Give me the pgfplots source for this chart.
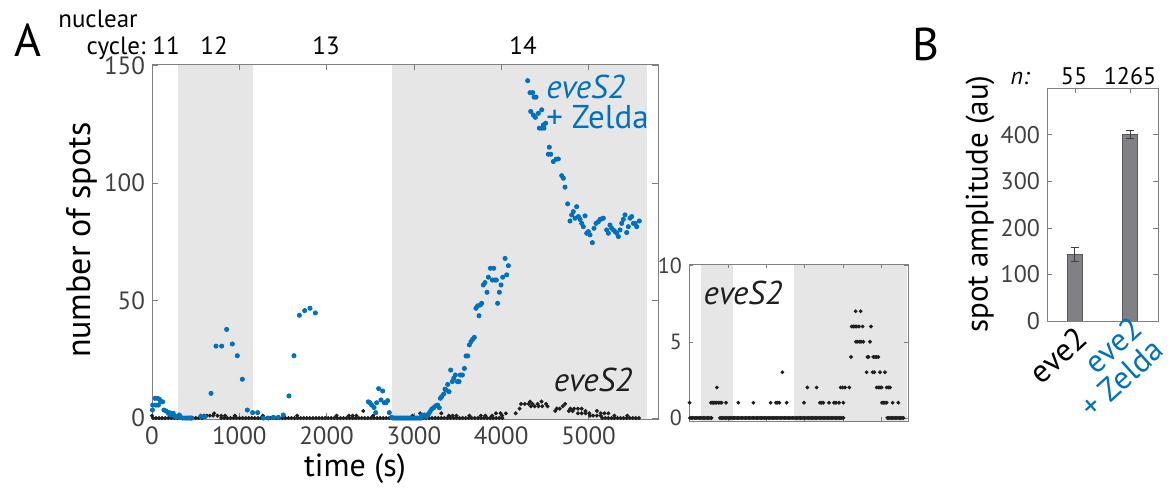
\documentclass[border=0pt]{standalone}
\usepackage{pgfplots}
\usepackage{pgfplotstable}
\pgfplotsset{compat=1.18}
\usepackage{fontspec}
\setmainfont{PT Sans}
\definecolor{mblue}{HTML}{0072BD}
\definecolor{shade}{HTML}{E6E6E6}
\definecolor{ticklab}{HTML}{404040}
\definecolor{axgray}{HTML}{808080}
\definecolor{barfill}{HTML}{808085}

% eveS2 + Zelda (blue)
\pgfplotstableread{
x y
5 3.4
8 5.5
34 8.4
46 5.5
61 8.4
73 5.5
84 8.0
99 6.9
122 6.9
137 3.4
160 3.0
187 2.0
199 2.3
214 1.3
225 2.0
244 2.0
263 0.6
283 0.6
313 1.3
328 0.3
351 0
378 0
400 0
420 0
440 0
454 0
561 0.6
607 0.6
676 10.5
733 30.6
798 30.6
855 37.7
920 31.5
977 26.5
1035 16.5
1092 3.4
1153 2.3
1210 2.3
1275 0
1332 0
1390 0.3
1447 0.3
1504 1.3
1569 9.4
1626 26.5
1688 43.7
1749 45.7
1810 46.7
1871 44.7
2478 6.9
2497 6.5
2516 5.5
2543 4.5
2562 2.3
2573 6.5
2596 12.5
2623 7.7
2642 11.5
2661 6.5
2680 6.5
2699 7.4
2718 2.3
2745 0.3
2764 0
2784 0
2804 0
2824 0
2844 0
2864 0
2884 0
2904 0
2924 0
2944 0
2964 0
2984 0
3004 0
3024 0
3044 0
3064 0
3084 0
3089 1.3
3119 1.3
3146 0.6
3165 1.6
3184 2.7
3204 3.8
3226 4.4
3249 5.2
3272 5.5
3291 4.4
3303 8.4
3318 9.1
3341 10.2
3356 12.3
3368 11.9
3387 14.3
3402 11.2
3421 20.4
3440 15.5
3456 16.9
3475 18.3
3498 15.5
3517 15.5
3532 18.3
3555 18.3
3578 21.1
3597 26.4
3616 26.4
3635 31.1
3654 32.5
3673 33.5
3692 34.3
3711 46.7
3730 47.7
3746 43.5
3761 48.1
3776 48.8
3795 56.6
3814 57.6
3837 53.5
3853 59.9
3876 63.7
3899 58.7
3914 63.7
3929 58.7
3944 58.7
3959 48.8
3979 53.5
3998 56.6
4017 59.9
4044 67.9
4063 60.9
4082 64.8
4303 143.5
4330 138.4
4361 138.4
4376 136.5
4399 136.5
4338 130.4
4368 128.9
4391 127.9
4425 129.6
4464 131.1
4437 123.3
4464 123.3
4483 124.7
4509 125.4
4490 123.3
4551 115.2
4540 112.2
4567 112.2
4597 109.1
4628 110.1
4654 110.2
4693 103.1
4712 102.0
4731 98.2
4761 91.1
4788 83.8
4807 86.4
4826 87.8
4845 85.0
4864 89.9
4884 85.7
4903 84.5
4922 82.8
4941 81.4
4960 86.0
4979 78.6
4998 79.3
5017 77.9
5044 74.6
5063 80.7
5086 82.8
5113 83.5
5132 84.5
5151 84.7
5170 85.0
5208 80.0
5227 78.6
5246 82.1
5265 80.7
5285 80.0
5304 79.3
5323 78.6
5342 77.2
5361 80.0
5380 82.8
5399 84.5
5418 86.4
5437 78.9
5456 81.4
5475 85.0
5495 85.7
5514 82.8
5533 82.8
5552 81.4
5582 83.8
}\zeldatable

% eveS2 (black)
\pgfplotstableread{
x y
0 1
11 0
46 0
81 0
116 0
151 0
186 0
221 0
256 0
291 0
326 0
361 0
396 0
431 0
466 0
501 0
536 0
571 0
558 1
593 1
628 1
663 1
700 1
712 2
750 1
793 1
837 1
950 1
793 0
828 0
863 0
898 0
933 0
968 0
1003 0
1038 0
1073 0
1108 0
1143 0
1178 0
1213 0
1248 0
1283 0
1318 0
1353 0
1388 0
1423 0
1458 0
1493 0
1528 0
1563 0
1598 0
1633 0
1668 0
1703 0
1738 0
1773 0
1808 0
1843 0
1878 0
1913 0
1948 0
1983 0
2018 0
2053 0
2088 0
2123 0
2158 0
2193 0
2228 0
2263 0
2298 0
2333 0
2368 0
2403 0
2438 0
2473 0
2508 0
2543 0
2578 0
2613 0
2648 0
2683 0
2718 0
2753 0
2788 0
2823 0
2858 0
2893 0
2928 0
2963 0
2998 0
3033 0
3068 0
3103 0
3138 0
3173 0
3208 0
3243 0
3278 0
3313 0
3348 0
3383 0
3418 0
3453 0
3488 0
3523 0
3558 0
3593 0
3628 0
3663 0
3698 0
3733 0
3768 0
3803 0
3838 0
3873 0
3908 0
3943 0
3978 0
4013 0
1271 1
1663 1
2114 1
2254 1
2297 1
2340 1
2419 3
2532 1
2984 1
3071 2
3314 2
3401 1
3444 1
3487 1
3636 1
3766 1
3818 1
3897 1
3940 2
3992 2
4010 1
4053 2
4166 2
4210 4
4227 6
4270 6
4314 6
4331 7
4340 5
4357 6
4383 5
4418 6
4427 5
4462 7
4470 5
4514 6
4531 5
4618 3
4636 4
4670 4
4705 5
4731 6
4775 3
4792 4
4818 3
4836 4
4879 4
4879 2
4922 4
4922 2
4966 3
4966 2
5009 2
5018 1
5053 1
5096 3
5096 1
5140 2
5140 1
5183 2
5227 2
5296 1
5444 1
5157 0
5192 0
5227 0
5262 0
5297 0
5332 0
5367 0
5402 0
5437 0
5472 0
5507 0
5542 0
5577 0
}\evetable

\begin{document}
\begin{tikzpicture}
\path[use as bounding box] (0,0) rectangle (585pt,-246.5pt);

% ---------- Panel A main ----------
\begin{axis}[
  anchor=south west, at={(76pt,-209.6pt)},
  width=253pt, height=177.5pt, scale only axis,
  xmin=0, xmax=5796, ymin=-0.5, ymax=150.5,
  xtick={0,1000,...,5000}, ytick={0,50,100,150},
  tick align=inside, major tick length=3pt,
  axis line style={axgray}, tick style={axgray},
  /pgf/number format/assume math mode=true,
  /pgf/number format/1000 sep={},
  scaled x ticks=false,
  ticklabel style={font=\fontsize{12.5}{14}\selectfont, text=ticklab},
  xlabel={time (s)}, ylabel={number of spots},
  xlabel style={font=\fontsize{16}{18}\selectfont, at={(rel axis cs:0.401,-0.138)}, anchor=center},
  ylabel style={font=\fontsize{17}{20}\selectfont, at={(rel axis cs:-0.138,0.504)}, anchor=center},
  axis on top,
]
\addplot[draw=none, fill=shade, forget plot] coordinates {(298,-0.5) (298,150.5) (1157,150.5) (1157,-0.5)} -- cycle;
\addplot[draw=none, fill=shade, forget plot] coordinates {(2749,-0.5) (2749,150.5) (5670,150.5) (5670,-0.5)} -- cycle;
\addplot[only marks, mark=*, mark size=0.8pt, color=black!88] table[x=x,y=y] {\evetable};
\addplot[only marks, mark=*, mark size=1.05pt, color=mblue] table[x=x,y=y] {\zeldatable};
\node[font=\fontsize{16.5}{18}\selectfont\itshape, text=black!88] at (axis cs:5052,16.2) {eveS2};
\node[font=\fontsize{16.5}{15}\selectfont, text=mblue, align=left, anchor=west, inner sep=0pt] at (axis cs:4513,134.5) {\textit{eveS2}\\+ Zelda};
\end{axis}

% ---------- Panel A inset ----------
\begin{axis}[
  anchor=south west, at={(344.5pt,-210.5pt)},
  width=109.5pt, height=78.5pt, scale only axis,
  xmin=-15, xmax=5697, ymin=-0.2, ymax=10.1,
  xtick={1000,2000,...,5000}, xticklabels={},
  ytick={0,5,10},
  tick align=inside, major tick length=2pt,
  axis line style={axgray}, tick style={axgray},
  /pgf/number format/assume math mode=true,
  ticklabel style={font=\fontsize{11}{12}\selectfont, text=ticklab},
  axis on top,
]
\addplot[draw=none, fill=shade, forget plot] coordinates {(298,-0.2) (298,10.1) (1133,10.1) (1133,-0.2)} -- cycle;
\addplot[draw=none, fill=shade, forget plot] coordinates {(2723,-0.2) (2723,10.1) (5670,10.1) (5670,-0.2)} -- cycle;
\addplot[only marks, mark=*, mark size=0.75pt, color=black!88] table[x=x,y=y] {\evetable};
\node[font=\fontsize{16.5}{18}\selectfont\itshape, text=black!88] at (axis cs:1393,8.2) {eveS2};
\end{axis}

% ---------- Panel B ----------
\begin{axis}[
  anchor=south west, at={(523.5pt,-160.5pt)},
  width=55.5pt, height=116.5pt, scale only axis,
  xmin=0.5, xmax=2.5, ymin=0, ymax=500,
  xtick={1,2}, xticklabels={},
  ytick={0,100,...,400},
  tick align=inside, major tick length=2.5pt,
  axis line style={axgray}, tick style={axgray},
  /pgf/number format/assume math mode=true,
  ticklabel style={font=\fontsize{12}{14}\selectfont, text=ticklab},
  ylabel={spot amplitude (au)},
  ylabel style={font=\fontsize{15.5}{18}\selectfont, at={(rel axis cs:-0.604,0.502)}, anchor=center},
  axis on top,
]
\addplot[ybar, bar width=7.5pt, fill=barfill, draw=black!65,
  error bars/.cd, y dir=both, y explicit,
  error bar style={black!75, line width=0.5pt},
  error mark options={rotate=90, mark size=2pt, black!75}]
  coordinates {(1,143) +- (0,15) (2,401) +- (0,9)};
\end{axis}

% ---------- texts ----------
\node[font=\fontsize{23}{26}\selectfont] at (14pt,-20pt) {A};
\node[font=\fontsize{23}{26}\selectfont] at (463pt,-22pt) {B};
\node[font=\fontsize{12.5}{14}\selectfont] at (49pt,-9.5pt) {nuclear};
\node[font=\fontsize{12.5}{14}\selectfont, anchor=base east, inner sep=0pt] at (73pt,-27pt) {cycle:};
\node[font=\fontsize{12.5}{14}\selectfont, anchor=base] at (83pt,-27pt) {11};
\node[font=\fontsize{12.5}{14}\selectfont, anchor=base] at (107pt,-27pt) {12};
\node[font=\fontsize{12.5}{14}\selectfont, anchor=base] at (163pt,-27pt) {13};
\node[font=\fontsize{12.5}{14}\selectfont, anchor=base] at (261.5pt,-27pt) {14};
\node[font=\fontsize{12}{14}\selectfont\itshape, anchor=base] at (510pt,-42pt) {n:};
\node[font=\fontsize{12}{14}\selectfont, anchor=base] at (537pt,-42pt) {55};
\node[font=\fontsize{12}{14}\selectfont, anchor=base] at (565pt,-42pt) {1265};
\node[font=\fontsize{16}{17}\selectfont, rotate=42, anchor=base east, inner sep=0pt] at (545pt,-171pt) {eve2};
\node[font=\fontsize{16}{17}\selectfont, rotate=42, anchor=base east, inner sep=0pt, text=mblue] at (572.5pt,-166pt) {eve2};
\node[font=\fontsize{16}{17}\selectfont, rotate=42, anchor=base east, inner sep=0pt, text=mblue] at (583pt,-176.5pt) {+ Zelda};
\end{tikzpicture}
\end{document}
